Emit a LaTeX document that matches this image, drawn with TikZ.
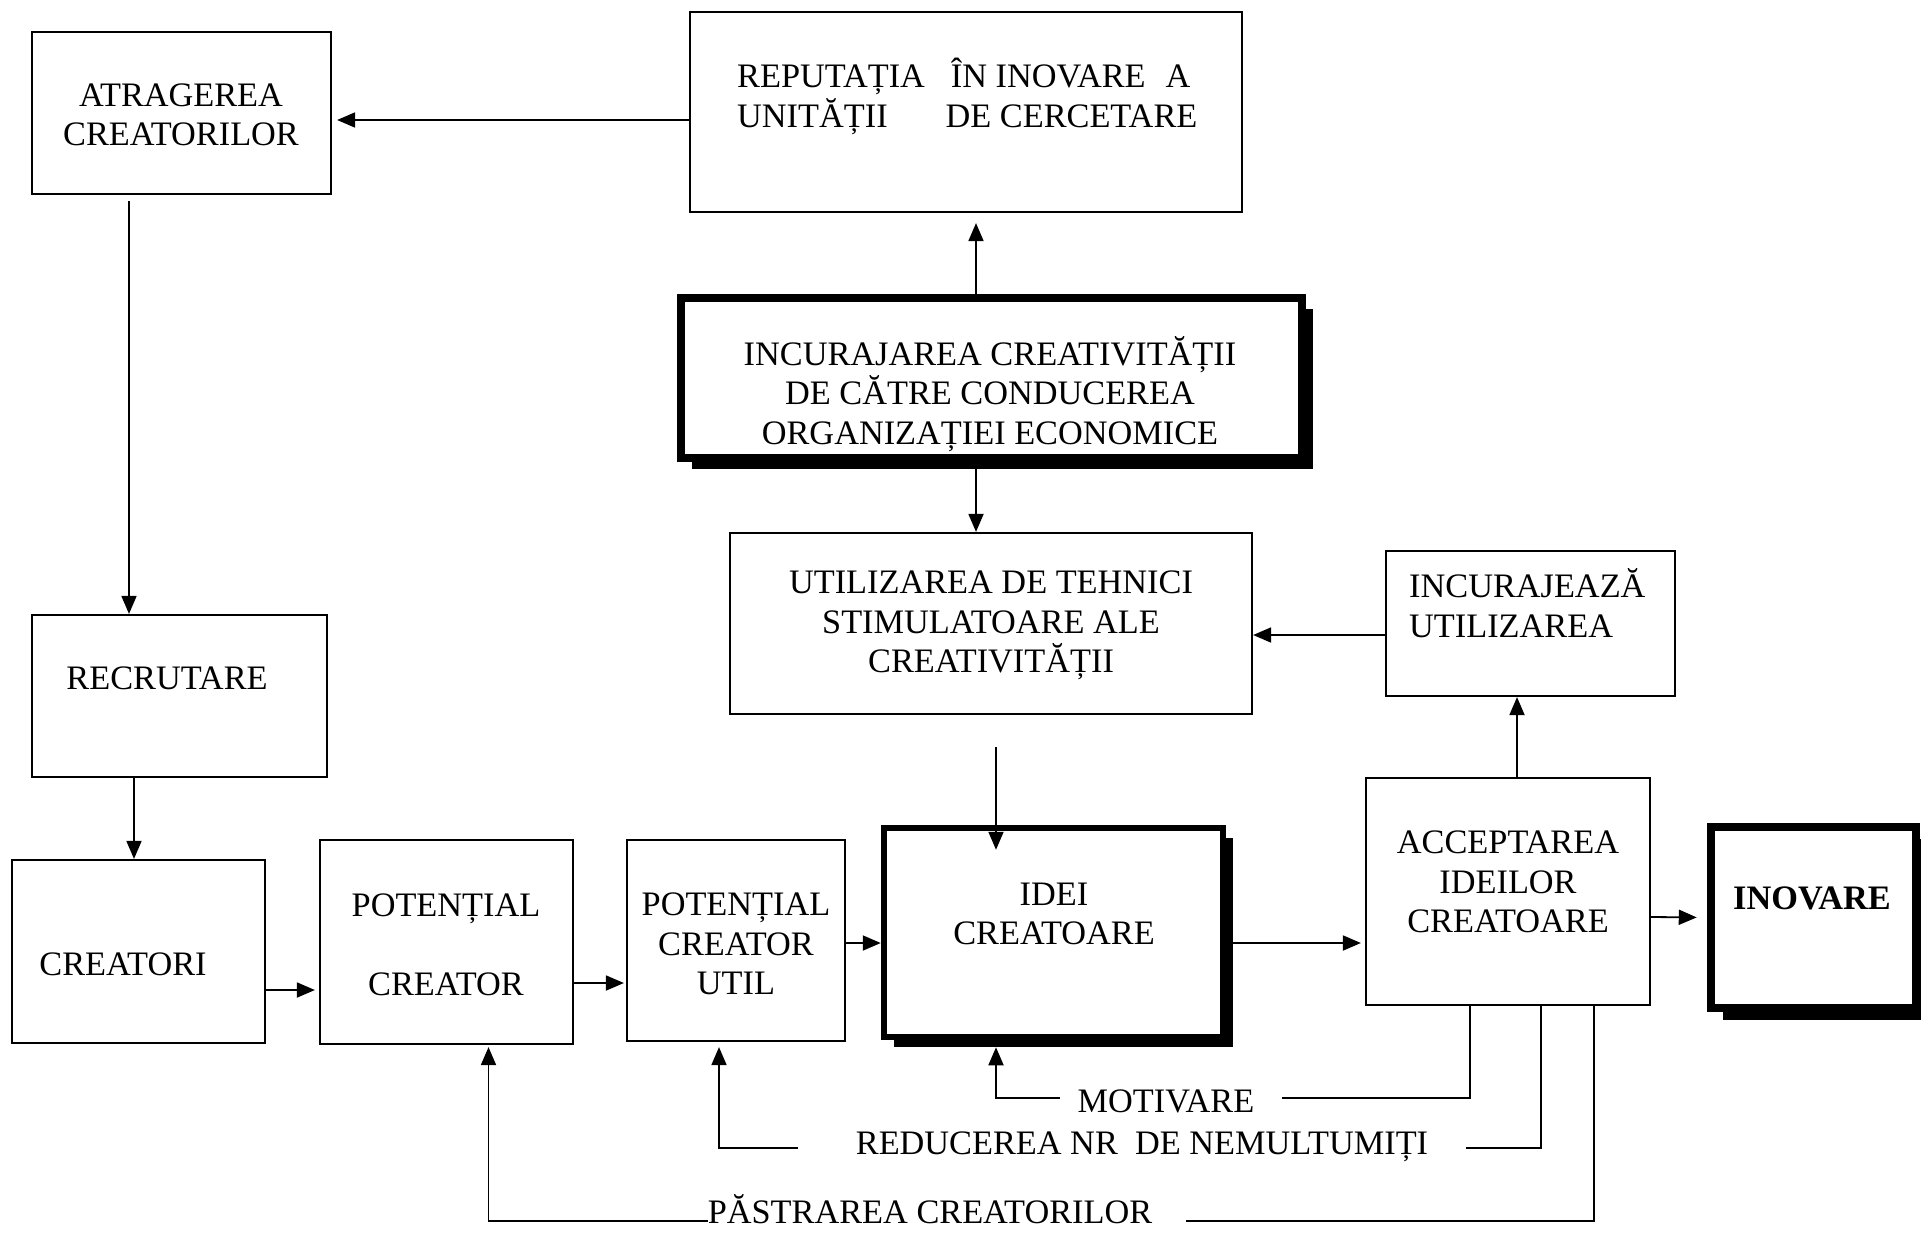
\documentclass[tikz,border=0pt]{standalone}
\usepackage{fontspec}
\setmainfont{Liberation Serif}
\usetikzlibrary{arrows.meta,fit,shadows}
\newcommand{\st}{\rule[-0.22em]{0pt}{0.92em}}
\begin{document}
\begin{tikzpicture}[x=1pt,y=-1pt,
  box/.style={draw, line width=2.2pt, inner sep=0pt},
  tbox/.style 2 args={draw, fill=white, inner sep=0pt, line width=#1,
     drop shadow={shadow xshift=#2, shadow yshift=-#2, fill=black, opacity=1}},
  txt/.style={inner sep=0pt, font=\fontsize{34.3pt}{39.5pt}\selectfont, align=center, yshift=-4pt},
  ln/.style={line width=1.8pt},
  arr/.style={line width=1.8pt, -{Triangle[length=18pt,width=15pt]}}]
\useasboundingbox (0,0) rectangle (1921,1234);

% boxes
\node[box, fit={(32,32) (331,194)}] (atr) {};
\node[txt] (tatr) at (181,114) {\st ATRAGEREA\\\st CREATORILOR};

\node[box, fit={(690,12) (1242,212)}] (rep) {};
\node[txt, align=left, anchor=west, yshift=2.5pt] (trep) at (737,95)
  {\st REPUTAȚIA\hspace{26pt}ÎN INOVARE\hspace{20pt}A\\\st UNITĂȚII\hspace{58pt}DE CERCETARE};

\node[tbox={8.5pt}{11pt}, fit={(681,298) (1302,458)}] (incc) {};
\node[txt] (tincc) at (990,390)
  {\st INCURAJAREA CREATIVITĂȚII\\\st DE CĂTRE CONDUCEREA\\\st ORGANIZAȚIEI ECONOMICE};

\node[box, fit={(730,533) (1252,714)}] (uti) {};
\node[txt] (tuti) at (991,621) {\st UTILIZAREA DE TEHNICI\\\st STIMULATOARE ALE\\\st CREATIVITĂȚII};

\node[box, fit={(1386,551) (1675,696)}] (inc2) {};
\node[txt, align=left, anchor=west] (tinc2) at (1409,603) {\st INCURAJEAZĂ\\\st UTILIZAREA};

\node[box, fit={(32,615) (327,777)}] (rec) {};
\node[txt] (trec) at (167,677) {\st RECRUTARE};

\node[box, fit={(12,860) (265,1043)}] (cre) {};
\node[txt] (tcre) at (123,963) {\st CREATORI};

\node[box, fit={(320,840) (573,1044)}] (pc) {};
\node[txt] (tpc1) at (446,904) {\st POTENȚIAL};
\node[txt] (tpc2) at (446,983) {\st CREATOR};

\node[box, fit={(627,840) (845,1041)}] (pcu) {};
\node[txt] (tpcu) at (736,943) {\st POTENȚIAL\\\st CREATOR\\\st UTIL};

\node[tbox={6.5pt}{10pt}, fit={(884,828) (1223,1037)}] (idei) {};
\node[txt] (tidei) at (1054,913) {\st IDEI\\\st CREATOARE};

\node[box, fit={(1366,778) (1650,1005)}] (acc) {};
\node[txt] (tacc) at (1508,881) {\st ACCEPTAREA\\\st IDEILOR\\\st CREATOARE};

\node[tbox={8.5pt}{12pt}, fit={(1711,827) (1916,1008)}] (inov) {};
\node[txt] (tinov) at (1812,897) {\st\textbf{INOVARE}};

% bottom labels
\node[txt] (mot) at (1166,1100) {\st MOTIVARE};
\node[txt] (red) at (1142,1142) {\st REDUCEREA NR\ \ DE NEMULTUMIȚI};
\node[txt, anchor=base] (pas) at (930,1219) {PĂSTRAREA CREATORILOR};

% connectors
\draw[arr, shorten >=5pt] ([yshift=-8pt]rep.west) -- ([yshift=-7pt]atr.east);
\draw[arr, shorten >=10pt] ([xshift=-15.5pt]incc.north) -- ([xshift=10pt]rep.south);
\draw[arr] ([xshift=-15.5pt]incc.south) -- ([xshift=-15pt]uti.north);
\draw[arr] ([yshift=-11.5pt]inc2.west) -- ([yshift=-11.5pt]uti.east);
\draw[arr] ([xshift=9pt]acc.north) -- ([xshift=-13.5pt]inc2.south);
\coordinate (ut) at (996,747);
\draw[arr] (ut) -- ([xshift=-57.5pt,yshift=-25pt]idei.north);
\draw[arr, shorten <=6pt] ([xshift=-52.5pt]atr.south) -- ([xshift=-50.5pt]rec.north);
\draw[arr] ([xshift=-45.5pt]rec.south) -- ([xshift=-4.5pt]cre.north);
\draw[arr, shorten >=4pt] ([yshift=-38.5pt]cre.east) -- ([yshift=-48pt]pc.west);
\draw[arr, shorten >=2pt] ([yshift=-41pt]pc.east) -- ([yshift=-42.5pt]pcu.west);
\draw[arr] ([yshift=-2.5pt]pcu.east) -- ([yshift=-10.5pt]idei.west);
\draw[arr, shorten >=4pt] ([xshift=7pt,yshift=-10.5pt]idei.east) -- ([yshift=-51.5pt]acc.west);
\draw[arr, shorten >=10pt] ([yshift=-25.5pt]acc.east) -- (inov.west);

% feedback lines
\draw[ln] ([xshift=-38pt]acc.south) |- ([xshift=27.5pt,yshift=6pt]mot.east);
\draw[arr, shorten >=7pt] ([xshift=-17.5pt,yshift=6pt]mot.west) -| ([xshift=-57.5pt]idei.south);
\draw[ln] ([xshift=33pt]acc.south) |- ([xshift=38pt,yshift=-2pt]red.east);
\draw[arr, shorten >=5pt] ([xshift=-58pt,yshift=-2pt]red.west) -| ([xshift=-17pt]pcu.south);
\draw[ln] ([xshift=86pt]acc.south) |- ([xshift=34pt,yshift=2pt]pas.base east);
\draw[arr, shorten >=2pt] ([yshift=2pt]pas.base west) -| ([xshift=42pt]pc.south);
\end{tikzpicture}
\end{document}
